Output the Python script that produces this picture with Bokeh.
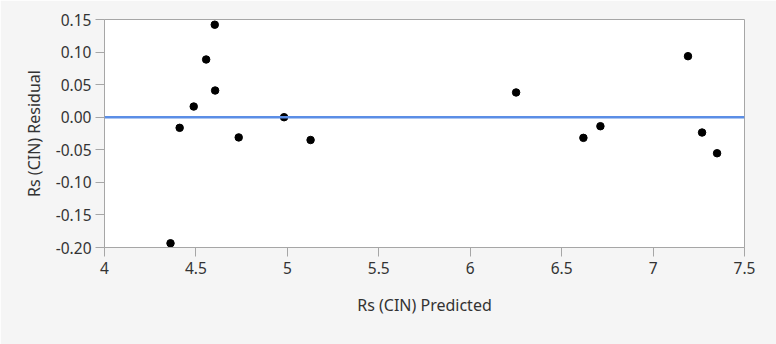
from bokeh.plotting import figure
from bokeh.models import Range1d, FixedTicker, NumeralTickFormatter, Span
from bokeh.embed import file_html
from bokeh.resources import INLINE

# Data
predicted = [4.361, 4.411, 4.488, 4.556, 4.605, 4.603, 4.734, 4.982, 5.127,
             6.251, 6.619, 6.712, 7.191, 7.268, 7.350]
residual = [-0.1935, -0.0163, 0.0164, 0.0886, 0.041, 0.142, -0.031, 0.0, -0.035,
            0.038, -0.0317, -0.0138, 0.0937, -0.0235, -0.0553]

x_ticks = [4, 4.5, 5, 5.5, 6, 6.5, 7, 7.5]
x_tick_labels = ["4", "4.5", "5", "5.5", "6", "6.5", "7", "7.5"]
y_ticks = [-0.20, -0.15, -0.10, -0.05, 0.0, 0.05, 0.10, 0.15]

FONT = "Noto Sans"
TXT = "#333333"
GRAY = "#a6a6a6"

p = figure(width=776, height=344, output_backend="svg", toolbar_location=None,
           x_range=Range1d(4, 7.5), y_range=Range1d(-0.20, 0.15),
           min_border_left=104, min_border_right=32, min_border_top=19,
           min_border_bottom=97)
p.border_fill_color = "#f5f5f5"
p.background_fill_color = "white"
p.outline_line_color = GRAY
p.grid.visible = False

p.add_layout(Span(location=0, dimension="width", line_color="#5b8ee6", line_width=2.5))
p.scatter(predicted, residual, size=7.5, color="black")

for ax in (p.xaxis[0], p.yaxis[0]):
    ax.axis_line_color = GRAY
    ax.major_tick_line_color = GRAY
    ax.major_tick_out = 9
    ax.major_tick_in = 0
    ax.minor_tick_line_color = None
    ax.major_label_text_font = FONT
    ax.major_label_text_font_size = "15.5px"
    ax.major_label_text_color = TXT
    ax.axis_label_text_font = FONT
    ax.axis_label_text_font_size = "16px"
    ax.axis_label_text_font_style = "normal"
    ax.axis_label_text_color = TXT

p.xaxis.ticker = FixedTicker(ticks=x_ticks)
p.xaxis.major_label_overrides = {t: l for t, l in zip(x_ticks, x_tick_labels)}
p.xaxis.axis_label = "Rs (CIN) Predicted"
p.xaxis.major_label_standoff = 5
p.xaxis.axis_label_standoff = 17

p.yaxis.ticker = FixedTicker(ticks=y_ticks)
p.yaxis.formatter = NumeralTickFormatter(format="0.00")
p.yaxis.axis_label = "Rs (CIN) Residual"
p.yaxis.major_label_standoff = 4
p.yaxis.axis_label_standoff = 8

open("out.html", "w").write(file_html(p, INLINE))
